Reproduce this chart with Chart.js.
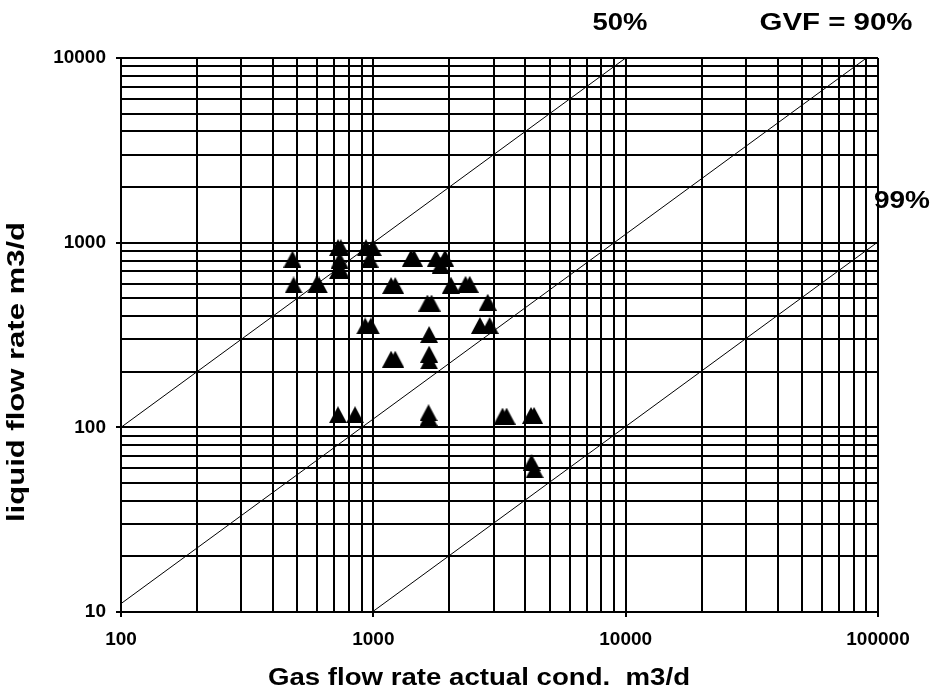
<!DOCTYPE html>
<html>
<head>
<meta charset="utf-8">
<style>
  html, body { margin: 0; padding: 0; background: #fff; }
  #wrap { width: 933px; height: 698px; position: relative; }
</style>
<script src="https://cdn.jsdelivr.net/npm/chart.js@4.4.1/dist/chart.umd.min.js"></script>
</head>
<body>
<div id="wrap"><canvas id="c" width="933" height="698"></canvas></div>
<script>
// Measured operating points: gas rate at actual conditions vs liquid rate (m3/d)
const gasFlow = [
  478, 483, 593, 609,
  724, 743, 735, 724, 743,
  935, 995, 966,
  928, 978,
  1410, 1448,
  1772, 1924, 1847,
  1176, 1221,
  2030,
  2320, 2410,
  1638, 1701,
  2840,
  2645, 2891,
  1663,
  1663, 1663,
  1176, 1221,
  1655, 1655,
  724, 846,
  3251, 3373,
  4217, 4336,
  4236, 4355
];
const liquidFlow = [
  815, 590, 590, 590,
  940, 940, 805, 706, 706,
  940, 940, 815,
  354, 354,
  825, 825,
  825, 825, 756,
  586, 586,
  589,
  595, 595,
  471, 471,
  476,
  356, 356,
  318,
  249, 229,
  234, 234,
  120, 113,
  117, 117,
  115, 115,
  116, 116,
  64.5, 59
];

// Constant gas-volume-fraction reference lines (end points, m3/d)
const gvf50Gas = [100, 10000];
const gvf50Liq = [100, 10000];
const gvf90Gas = [100, 90000];
const gvf90Liq = [11.1, 10000];
const gvf99Gas = [990, 100000];
const gvf99Liq = [10, 1010];

// Decade tick labels on each axis
const xTickLabels = [100, 1000, 10000, 100000];
const yTickLabels = [10, 100, 1000, 10000];

const xTitle = 'Gas flow rate actual cond.  m3/d';
const yTitle = 'liquid flow rate m3/d';
const label50 = '50%';
const label90 = 'GVF = 90%';
const label99 = '99%';

function gridValues(decades) {
  const out = [];
  for (let i = 0; i < decades.length; i++) {
    const d = decades[i];
    if (i === decades.length - 1) { out.push(d); break; }
    for (let m = 1; m <= 9; m++) out.push(d * m);
  }
  return out;
}
const xGrid = gridValues(xTickLabels);
const yGrid = gridValues(yTickLabels);

const toPoints = (xs, ys) => xs.map((x, i) => ({ x: x, y: ys[i] }));

// Filled triangle marker
function makeTriangle(w, h) {
  const c = document.createElement('canvas');
  c.width = w; c.height = h;
  const g = c.getContext('2d');
  g.fillStyle = '#000';
  g.beginPath();
  g.moveTo(w / 2, 0);
  g.lineTo(w, h);
  g.lineTo(0, h);
  g.closePath();
  g.fill();
  return c;
}
const triangle = makeTriangle(18, 17);

const FONT = '"Liberation Sans", Arial, Helvetica, sans-serif';

function drawStretched(ctx, text, cx, cy, targetWidth, fontPx, angle) {
  ctx.save();
  ctx.font = 'bold ' + fontPx + 'px ' + FONT;
  const w = ctx.measureText(text).width;
  ctx.translate(cx, cy);
  ctx.rotate(angle);
  ctx.scale(targetWidth / w, 1);
  ctx.textAlign = 'center';
  ctx.textBaseline = 'middle';
  ctx.fillStyle = '#000';
  ctx.fillText(text, 0, 0);
  ctx.restore();
}

const textPlugin = {
  id: 'chartTexts',
  afterDraw(chart) {
    const ctx = chart.ctx;
    drawStretched(ctx, label50, 620, 23, 55, 24, 0);
    drawStretched(ctx, label90, 836, 23, 153, 24, 0);
    drawStretched(ctx, label99, 902, 201, 56, 24, 0);
    drawStretched(ctx, xTitle, 479, 679, 422, 23, 0);
    drawStretched(ctx, yTitle, 18, 372, 300, 23, -Math.PI / 2);
  }
};

const isDecade = (list, v) => list.indexOf(v) !== -1;

new Chart(document.getElementById('c'), {
  type: 'scatter',
  data: {
    datasets: [
      { type: 'line', data: toPoints(gvf50Gas, gvf50Liq), borderColor: '#000', borderWidth: 1, pointRadius: 0, fill: false },
      { type: 'line', data: toPoints(gvf90Gas, gvf90Liq), borderColor: '#000', borderWidth: 1, pointRadius: 0, fill: false },
      { type: 'line', data: toPoints(gvf99Gas, gvf99Liq), borderColor: '#000', borderWidth: 1, pointRadius: 0, fill: false },
      { type: 'scatter', data: toPoints(gasFlow, liquidFlow), pointStyle: triangle, pointRadius: 8, backgroundColor: '#000', borderColor: '#000' }
    ]
  },
  options: {
    responsive: false,
    animation: false,
    devicePixelRatio: 1,
    layout: { padding: { top: 58, right: 55, left: 0, bottom: 0 } },
    plugins: { legend: { display: false }, tooltip: { enabled: false }, title: { display: false } },
    scales: {
      x: {
        type: 'logarithmic',
        min: 100, max: 100000,
        afterBuildTicks(scale) { scale.ticks = xGrid.map(v => ({ value: v })); },
        afterFit(scale) { scale.height = 86; },
        ticks: {
          autoSkip: false, maxRotation: 0, minRotation: 0, padding: 11, color: '#000',
          font: { family: FONT, size: 19, weight: 'bold' },
          callback: (v) => isDecade(xTickLabels, v) ? String(v) : ''
        },
        grid: {
          color: '#000', lineWidth: 2, tickLength: 5,
          tickColor: (c) => (c.tick && isDecade(xTickLabels, c.tick.value)) ? '#000' : 'rgba(0,0,0,0)'
        },
        border: { color: '#000', width: 2 }
      },
      y: {
        type: 'logarithmic',
        min: 10, max: 10000,
        afterBuildTicks(scale) { scale.ticks = yGrid.map(v => ({ value: v })); },
        afterFit(scale) { scale.width = 121; },
        ticks: {
          autoSkip: false, padding: 10, color: '#000',
          font: { family: FONT, size: 19, weight: 'bold' },
          callback: (v) => isDecade(yTickLabels, v) ? String(v) : ''
        },
        grid: {
          color: '#000', lineWidth: 2, tickLength: 5,
          tickColor: (c) => (c.tick && isDecade(yTickLabels, c.tick.value)) ? '#000' : 'rgba(0,0,0,0)'
        },
        border: { color: '#000', width: 2 }
      }
    }
  },
  plugins: [textPlugin]
});
</script>
</body>
</html>
